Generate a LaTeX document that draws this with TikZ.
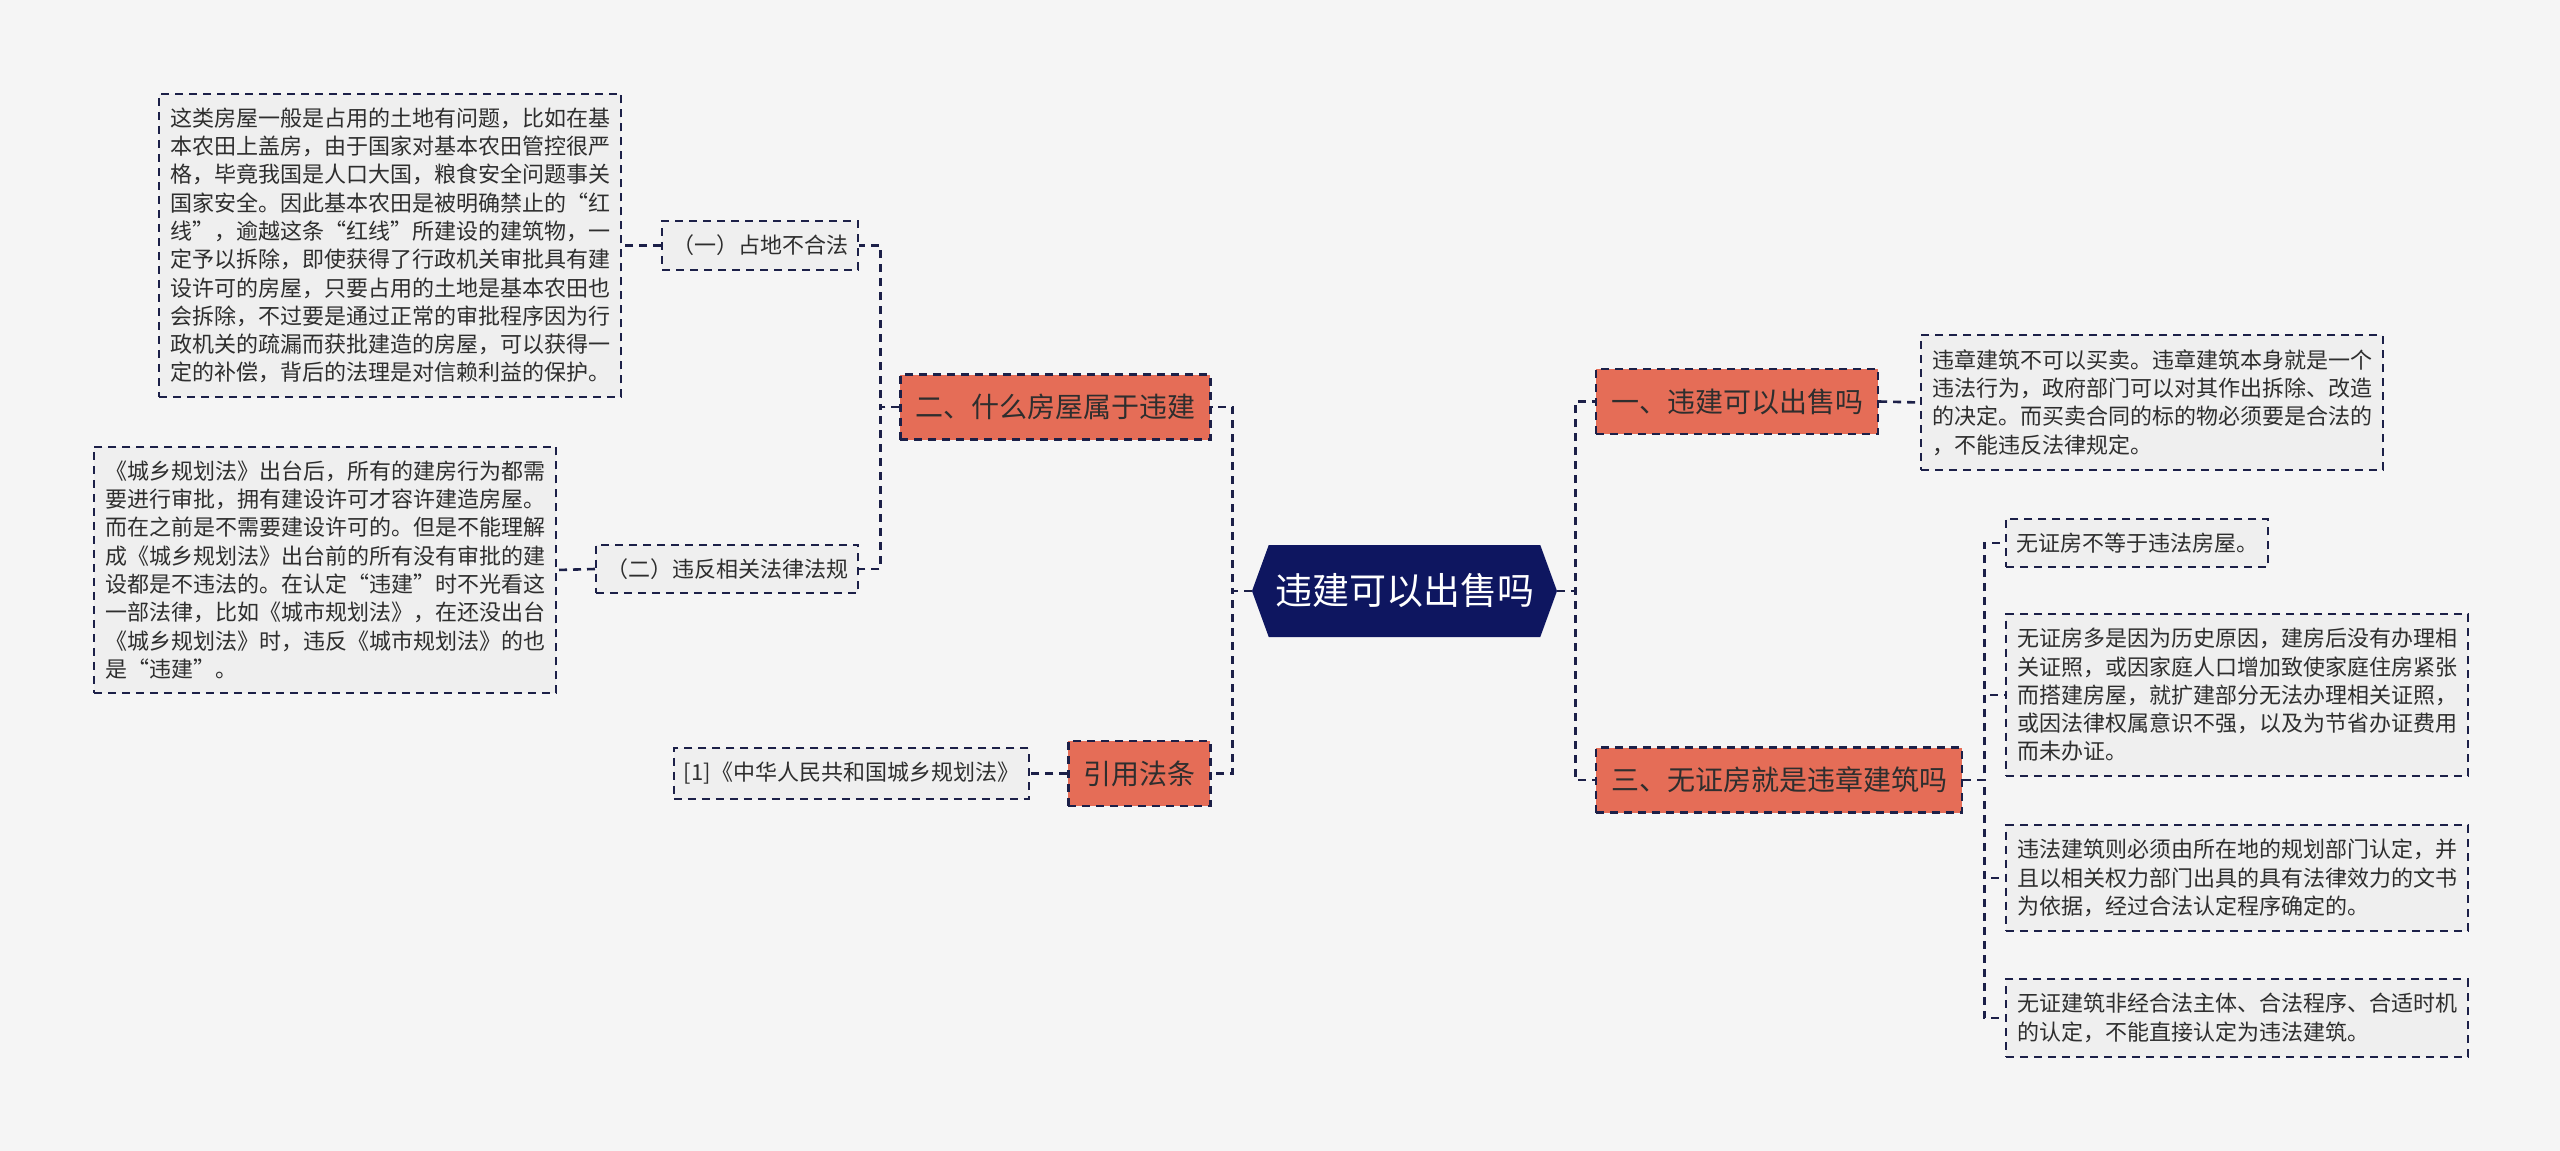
\documentclass[tikz,border=0pt]{standalone}
\usepackage{fontspec}
\setmainfont{Noto Sans CJK SC}
\usetikzlibrary{shapes.symbols}
\definecolor{mapnavy}{HTML}{0E1660}
\definecolor{mapline}{HTML}{1C2048}
\definecolor{mapsalmon}{HTML}{E56D57}
\definecolor{mapleaf}{HTML}{EFEFEF}
\definecolor{mapbg}{HTML}{F5F5F5}
\definecolor{maptext}{HTML}{2E2E2E}

\begin{document}
\begin{tikzpicture}[
    x=0.5pt, y=-0.5pt,
    hub/.style={signal, signal to=east and west, signal pointer angle=140, fill=mapnavy, text=white, minimum width=152.5pt, minimum height=46pt, inner sep=0pt, font=\fontsize{18.5pt}{22pt}\selectfont},
    topic/.style={rectangle, draw=mapline, fill=mapsalmon, line width=1.1pt, dash pattern=on 4pt off 3pt, text=maptext, minimum height=32.5pt, inner xsep=7.5pt, font=\fontsize{14pt}{17pt}\selectfont},
    leaf/.style={rectangle, draw=mapline, fill=mapleaf, line width=1pt, dash pattern=on 4pt off 3pt, text=maptext, align=left, inner xsep=5.5pt, inner ysep=7pt, font=\fontsize{11pt}{14.15pt}\selectfont},
    tag/.style={leaf, minimum height=24pt, inner xsep=5pt},
    link/.style={draw=mapline, line width=1.3pt, dash pattern=on 4pt off 3pt}
  ]
    \useasboundingbox[fill=mapbg] (0,0) rectangle (2560,1151);

    % centre and first level
    \node[hub] (root) at (1404.5,591) {违建可以出售吗};
    \node[topic, anchor=west] (sale) at (1595,401.5) {一、违建可以出售吗};
    \node[topic, anchor=east] (kind) at (1211.5,407) {二、什么房屋属于违建};
    \node[topic, anchor=west] (nocert) at (1595,780) {三、无证房就是违章建筑吗};
    \node[topic, anchor=east] (cite) at (1211.5,773.5) {引用法条};

    % details
    \node[leaf, anchor=west] (saletxt) at (1920,402.5) {违章建筑不可以买卖。违章建筑本身就是一个\\违法行为，政府部门可以对其作出拆除、改造\\的决定。而买卖合同的标的物必须要是合法的\\，不能违反法律规定。};
    \node[tag, anchor=east] (land) at (859,245.5) {（一）占地不合法};
    \node[tag, anchor=east] (law) at (859,569) {（二）违反相关法律法规};
    \node[leaf, anchor=east] (landtxt) at (622,245.5) {这类房屋一般是占用的土地有问题，比如在基\\本农田上盖房，由于国家对基本农田管控很严\\格，毕竟我国是人口大国，粮食安全问题事关\\国家安全。因此基本农田是被明确禁止的“红\\线”，逾越这条“红线”所建设的建筑物，一\\定予以拆除，即使获得了行政机关审批具有建\\设许可的房屋，只要占用的土地是基本农田也\\会拆除，不过要是通过正常的审批程序因为行\\政机关的疏漏而获批建造的房屋，可以获得一\\定的补偿，背后的法理是对信赖利益的保护。};
    \node[leaf, anchor=east] (lawtxt) at (557,570) {《城乡规划法》出台后，所有的建房行为都需\\要进行审批，拥有建设许可才容许建造房屋。\\而在之前是不需要建设许可的。但是不能理解\\成《城乡规划法》出台前的所有没有审批的建\\设都是不违法的。在认定“违建”时不光看这\\一部法律，比如《城市规划法》，在还没出台\\《城乡规划法》时，违反《城市规划法》的也\\是“违建”。};
    \node[tag, anchor=east] (citetxt) at (1030,773.5) {[1]《中华人民共和国城乡规划法》};
    \node[tag, anchor=west] (nc1) at (2005,543) {无证房不等于违法房屋。};
    \node[leaf, anchor=west] (nc2) at (2005,695) {无证房多是因为历史原因，建房后没有办理相\\关证照，或因家庭人口增加致使家庭住房紧张\\而搭建房屋，就扩建部分无法办理相关证照，\\或因法律权属意识不强，以及为节省办证费用\\而未办证。};
    \node[leaf, anchor=west] (nc3) at (2005,878) {违法建筑则必须由所在地的规划部门认定，并\\且以相关权力部门出具的具有法律效力的文书\\为依据，经过合法认定程序确定的。};
    \node[leaf, anchor=west] (nc4) at (2005,1018) {无证建筑非经合法主体、合法程序、合适时机\\的认定，不能直接认定为违法建筑。};

    % connectors
    \draw[link] (root.west) -- ++(-19,0) |- (kind.east);
    \draw[link] (root.west) -- ++(-19,0) |- (cite.east);
    \draw[link] (root.east) -- ++(18,0) |- (sale.west);
    \draw[link] (root.east) -- ++(18,0) |- (nocert.west);
    \draw[link] (kind.west) -- ++(-19,0) |- (land.east);
    \draw[link] (kind.west) -- ++(-19,0) |- (law.east);
    \draw[link] (land.west) -- (landtxt.east);
    \draw[link] (law.west) -- (lawtxt.east);
    \draw[link] (sale.east) -- (saletxt.west);
    \draw[link] (cite.west) -- (citetxt.east);
    \foreach \n in {nc1,nc2,nc3,nc4}
      \draw[link] (nocert.east) -- ++(21,0) |- (\n.west);
  \end{tikzpicture}
\end{document}
